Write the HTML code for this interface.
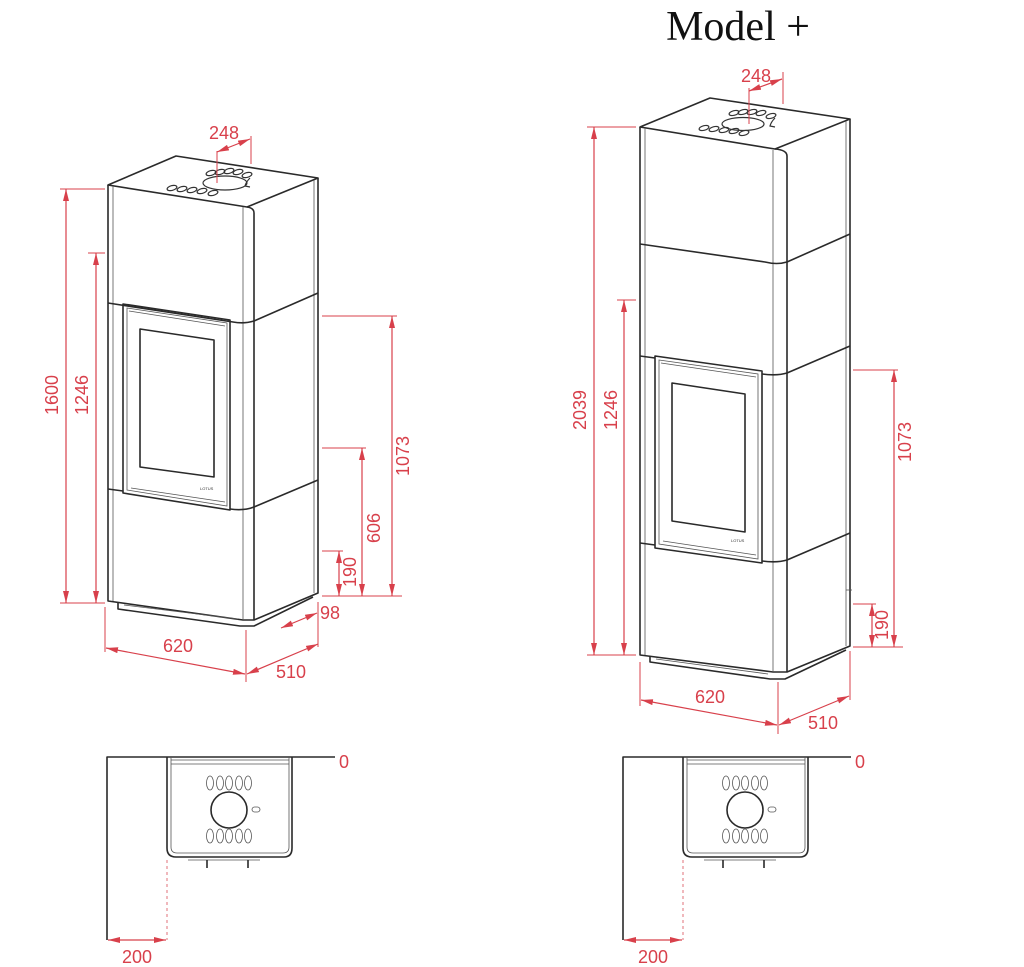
<!DOCTYPE html>
<html><head><meta charset="utf-8"><style>html,body{margin:0;padding:0;background:#fff}svg{display:block}</style></head>
<body>
<svg width="1024" height="967" viewBox="0 0 1024 967" xmlns="http://www.w3.org/2000/svg">
<defs>
<marker id="a" viewBox="0 0 12 6" refX="12" refY="3" markerWidth="12" markerHeight="6" markerUnits="userSpaceOnUse" orient="auto-start-reverse"><path d="M0,0 L12,3 L0,6 z" fill="#d8404b"/></marker>
</defs>
<style>
.k{fill:none;stroke:#2a2a2a;stroke-width:1.6;stroke-linejoin:round}
.t{fill:none;stroke:#555;stroke-width:0.8}
.r{fill:none;stroke:#d8404b;stroke-width:1}
.d{fill:none;stroke:#d8404b;stroke-width:1.2;marker-start:url(#a);marker-end:url(#a)}
.l{fill:#d8404b;font-family:"Liberation Sans",sans-serif;font-size:18px}
.o{fill:none;stroke:#333;stroke-width:1.2}
</style>

<!-- ================= LEFT STOVE ================= -->
<g>
<path class="k" d="M108,185 L176,156 L318,178 L247,207 Z"/>
<path class="k" d="M108,185 L108,601 L243,620 L254,620 L318,593 L318,178"/>
<path class="k" d="M247,207 Q254,208 254,213 L254,620"/>
<line class="t" x1="243" y1="207" x2="243" y2="620"/>
<line class="t" x1="113" y1="186" x2="113" y2="601"/>
<line class="t" x1="314" y1="180" x2="314" y2="593"/>
<path class="k" d="M118,602 L118,609 L240,626 L254,626 L313,597"/>
<line class="t" x1="124" y1="605" x2="238" y2="619"/>
<path class="k" d="M108,303 L233,322 Q244,324 254,321 L318,293"/>
<path class="k" d="M108,489 L123,491"/>
<path class="k" d="M230,509 Q244,511 254,507 L318,480"/>
<path class="k" d="M123,304 L230,320 L230,510 L123,493 Z"/>
<path class="t" d="M127,308 L227,323 L227,506 L127,490 Z"/>
<path class="t" d="M129,311 L225,326"/>
<path class="k" d="M140,329 L214,340 L214,477 L140,467 Z"/>
<line class="t" x1="131" y1="488" x2="225" y2="502"/>
<text x="200" y="490" font-family="Liberation Sans,sans-serif" font-size="4" fill="#333">LOTUS</text>
<ellipse class="o" cx="225" cy="183" rx="22" ry="7"/>
<g class="o">
<ellipse cx="211" cy="173" rx="5" ry="2.4" transform="rotate(-15 211 173)"/>
<ellipse cx="220" cy="172" rx="5" ry="2.4" transform="rotate(-15 220 172)"/>
<ellipse cx="229" cy="171" rx="5" ry="2.4" transform="rotate(-15 229 171)"/>
<ellipse cx="238" cy="172" rx="5" ry="2.4" transform="rotate(-15 238 172)"/>
<ellipse cx="247" cy="175" rx="5" ry="2.4" transform="rotate(-15 247 175)"/>
<ellipse cx="172" cy="188" rx="5" ry="2.4" transform="rotate(-15 172 188)"/>
<ellipse cx="182" cy="189" rx="5" ry="2.4" transform="rotate(-15 182 189)"/>
<ellipse cx="192" cy="190" rx="5" ry="2.4" transform="rotate(-15 192 190)"/>
<ellipse cx="202" cy="191" rx="5" ry="2.4" transform="rotate(-15 202 191)"/>
<ellipse cx="213" cy="193" rx="5" ry="2.4" transform="rotate(-15 213 193)"/>
</g>
<path class="o" d="M250,178 q-4,4 -5,8 l5,1"/>
</g>

<g>
<line class="r" x1="60" y1="189" x2="105" y2="189"/>
<line class="r" x1="60" y1="603" x2="105" y2="603"/>
<line class="d" x1="66" y1="189" x2="66" y2="603"/>
<text class="l" transform="translate(58,395) rotate(-90)" text-anchor="middle">1600</text>
<line class="r" x1="88" y1="253" x2="105" y2="253"/>
<line class="d" x1="96" y1="253" x2="96" y2="603"/>
<text class="l" transform="translate(88,395) rotate(-90)" text-anchor="middle">1246</text>

<line class="r" x1="322" y1="316" x2="397" y2="316"/>
<line class="r" x1="322" y1="596" x2="402" y2="596"/>
<line class="d" x1="392" y1="316" x2="392" y2="596"/>
<text class="l" transform="translate(409,456) rotate(-90)" text-anchor="middle">1073</text>
<line class="r" x1="322" y1="448" x2="366" y2="448"/>
<line class="d" x1="362" y1="448" x2="362" y2="596"/>
<text class="l" transform="translate(380,528) rotate(-90)" text-anchor="middle">606</text>
<line class="r" x1="322" y1="551" x2="343" y2="551"/>
<line class="d" x1="339" y1="551" x2="339" y2="596"/>
<text class="l" transform="translate(356,572) rotate(-90)" text-anchor="middle">190</text>

<line class="r" x1="318" y1="602" x2="318" y2="628"/>
<line class="d" x1="281" y1="628" x2="317" y2="613"/>
<text class="l" x="320" y="619">98</text>

<line class="r" x1="105" y1="607" x2="105" y2="652"/>
<line class="r" x1="246" y1="630" x2="246" y2="682"/>
<line class="d" x1="106" y1="648" x2="245" y2="674"/>
<text class="l" x="163" y="652">620</text>
<line class="r" x1="318" y1="620" x2="318" y2="647"/>
<line class="d" x1="247" y1="674" x2="318" y2="644"/>
<text class="l" x="276" y="678">510</text>

<line class="r" x1="217" y1="151" x2="217" y2="183"/>
<line class="r" x1="251" y1="136" x2="251" y2="164"/>
<line class="d" x1="217" y1="152" x2="250" y2="139"/>
<text class="l" x="209" y="139">248</text>
</g>

<!-- ================= RIGHT STOVE ================= -->
<text x="738" y="40" text-anchor="middle" font-family="Liberation Serif,serif" font-size="42" fill="#111">Model +</text>
<g>
<path class="k" d="M640,127 L710,98 L850,119 L775,149 Z"/>
<path class="k" d="M640,127 L640,655 L773,672 L787,672 L850,646 L850,119"/>
<path class="k" d="M775,149 Q787,150 787,156 L787,672"/>
<line class="t" x1="773" y1="150" x2="773" y2="672"/>
<line class="t" x1="645" y1="128" x2="645" y2="655"/>
<line class="t" x1="846" y1="121" x2="846" y2="646"/>
<line class="t" x1="846" y1="590" x2="852" y2="590"/>
<path class="k" d="M650,656 L650,662 L770,679 L785,679 L846,650"/>
<line class="t" x1="656" y1="659" x2="768" y2="674"/>
<path class="k" d="M640,244 L765,262 Q777,265 787,262 L850,234"/>
<path class="k" d="M640,356 L655,358"/>
<path class="k" d="M762,374 Q777,376 787,373 L850,346"/>
<path class="k" d="M640,543 L655,545"/>
<path class="k" d="M762,561 Q777,563 787,560 L850,533"/>
<path class="k" d="M655,356 L762,371 L762,563 L655,548 Z"/>
<path class="t" d="M659,360 L758,374 L758,559 L659,544 Z"/>
<path class="t" d="M661,363 L756,377"/>
<path class="k" d="M672,383 L745,394 L745,532 L672,521 Z"/>
<line class="t" x1="663" y1="541" x2="756" y2="555"/>
<text x="731" y="542" font-family="Liberation Sans,sans-serif" font-size="4" fill="#333">LOTUS</text>
<ellipse class="o" cx="743" cy="124" rx="21" ry="6.5"/>
<g class="o">
<ellipse cx="734" cy="113" rx="5" ry="2.3" transform="rotate(-15 734 113)"/>
<ellipse cx="743" cy="112" rx="5" ry="2.3" transform="rotate(-15 743 112)"/>
<ellipse cx="752" cy="112" rx="5" ry="2.3" transform="rotate(-15 752 112)"/>
<ellipse cx="761" cy="113" rx="5" ry="2.3" transform="rotate(-15 761 113)"/>
<ellipse cx="771" cy="116" rx="5" ry="2.3" transform="rotate(-15 771 116)"/>
<ellipse cx="704" cy="128" rx="5" ry="2.3" transform="rotate(-15 704 128)"/>
<ellipse cx="714" cy="129" rx="5" ry="2.3" transform="rotate(-15 714 129)"/>
<ellipse cx="724" cy="130" rx="5" ry="2.3" transform="rotate(-15 724 130)"/>
<ellipse cx="734" cy="131" rx="5" ry="2.3" transform="rotate(-15 734 131)"/>
<ellipse cx="744" cy="133" rx="5" ry="2.3" transform="rotate(-15 744 133)"/>
</g>
<path class="o" d="M775,118 q-4,4 -5,8 l5,1"/>
</g>

<g>
<line class="r" x1="587" y1="127" x2="636" y2="127"/>
<line class="r" x1="587" y1="655" x2="636" y2="655"/>
<line class="d" x1="594" y1="127" x2="594" y2="655"/>
<text class="l" transform="translate(586,410) rotate(-90)" text-anchor="middle">2039</text>
<line class="r" x1="617" y1="300" x2="636" y2="300"/>
<line class="d" x1="624" y1="300" x2="624" y2="655"/>
<text class="l" transform="translate(617,410) rotate(-90)" text-anchor="middle">1246</text>

<line class="r" x1="853" y1="370" x2="898" y2="370"/>
<line class="r" x1="853" y1="647" x2="903" y2="647"/>
<line class="d" x1="894" y1="370" x2="894" y2="647"/>
<text class="l" transform="translate(911,442) rotate(-90)" text-anchor="middle">1073</text>
<line class="r" x1="853" y1="604" x2="876" y2="604"/>
<line class="d" x1="872" y1="604" x2="872" y2="647"/>
<text class="l" transform="translate(888,625) rotate(-90)" text-anchor="middle">190</text>

<line class="r" x1="640" y1="662" x2="640" y2="706"/>
<line class="r" x1="778" y1="682" x2="778" y2="734"/>
<line class="d" x1="641" y1="700" x2="777" y2="725"/>
<text class="l" x="695" y="703">620</text>
<line class="r" x1="850" y1="651" x2="850" y2="700"/>
<line class="d" x1="779" y1="725" x2="849" y2="696"/>
<text class="l" x="808" y="729">510</text>

<line class="r" x1="749" y1="88" x2="749" y2="124"/>
<line class="r" x1="783" y1="72" x2="783" y2="104"/>
<line class="d" x1="749" y1="91" x2="782" y2="79"/>
<text class="l" x="741" y="82">248</text>
</g>

<!-- ================= PLAN VIEWS ================= -->
<g id="p1">
<path class="k" d="M107,940 L107,757 L335,757"/>
<path class="k" d="M167,757 L167,848 Q167,857 176,857 L284,857 Q292,857 292,848 L292,757"/>
<path class="t" d="M171,760 L289,760 M171,764 L289,764 M171,764 L171,757 M289,764 L289,757"/>
<path class="t" d="M171,764 L171,847 Q171,853 177,853 L283,853 Q289,853 289,847 L289,764"/>
<line class="t" x1="188" y1="860" x2="260" y2="860"/>
<line class="k" x1="207" y1="860" x2="207" y2="868"/>
<line class="k" x1="248" y1="860" x2="248" y2="868"/>
<circle class="k" cx="229" cy="810" r="18"/>
<g class="t" stroke-width="1">
<ellipse cx="210" cy="783" rx="3.5" ry="7"/><ellipse cx="220" cy="783" rx="3.5" ry="7"/><ellipse cx="229" cy="783" rx="3.5" ry="7"/><ellipse cx="239" cy="783" rx="3.5" ry="7"/><ellipse cx="248" cy="783" rx="3.5" ry="7"/>
<ellipse cx="210" cy="836" rx="3.5" ry="7"/><ellipse cx="220" cy="836" rx="3.5" ry="7"/><ellipse cx="229" cy="836" rx="3.5" ry="7"/><ellipse cx="239" cy="836" rx="3.5" ry="7"/><ellipse cx="248" cy="836" rx="3.5" ry="7"/>
<rect x="252" y="807" width="8" height="5" rx="2.5"/>
</g>
<line x1="167" y1="860" x2="167" y2="940" stroke="#e07078" stroke-width="1" stroke-dasharray="3,3"/>
<line class="d" x1="108" y1="940" x2="166" y2="940"/>
<text class="l" x="122" y="963">200</text>
<text class="l" x="339" y="768">0</text>
</g>
<g transform="translate(516,0)">
<path class="k" d="M107,940 L107,757 L335,757"/>
<path class="k" d="M167,757 L167,848 Q167,857 176,857 L284,857 Q292,857 292,848 L292,757"/>
<path class="t" d="M171,760 L289,760 M171,764 L289,764 M171,764 L171,757 M289,764 L289,757"/>
<path class="t" d="M171,764 L171,847 Q171,853 177,853 L283,853 Q289,853 289,847 L289,764"/>
<line class="t" x1="188" y1="860" x2="260" y2="860"/>
<line class="k" x1="207" y1="860" x2="207" y2="868"/>
<line class="k" x1="248" y1="860" x2="248" y2="868"/>
<circle class="k" cx="229" cy="810" r="18"/>
<g class="t" stroke-width="1">
<ellipse cx="210" cy="783" rx="3.5" ry="7"/><ellipse cx="220" cy="783" rx="3.5" ry="7"/><ellipse cx="229" cy="783" rx="3.5" ry="7"/><ellipse cx="239" cy="783" rx="3.5" ry="7"/><ellipse cx="248" cy="783" rx="3.5" ry="7"/>
<ellipse cx="210" cy="836" rx="3.5" ry="7"/><ellipse cx="220" cy="836" rx="3.5" ry="7"/><ellipse cx="229" cy="836" rx="3.5" ry="7"/><ellipse cx="239" cy="836" rx="3.5" ry="7"/><ellipse cx="248" cy="836" rx="3.5" ry="7"/>
<rect x="252" y="807" width="8" height="5" rx="2.5"/>
</g>
<line x1="167" y1="860" x2="167" y2="940" stroke="#e07078" stroke-width="1" stroke-dasharray="3,3"/>
<line class="d" x1="108" y1="940" x2="166" y2="940"/>
<text class="l" x="122" y="963">200</text>
<text class="l" x="339" y="768">0</text>
</g>
</svg>
</body></html>
